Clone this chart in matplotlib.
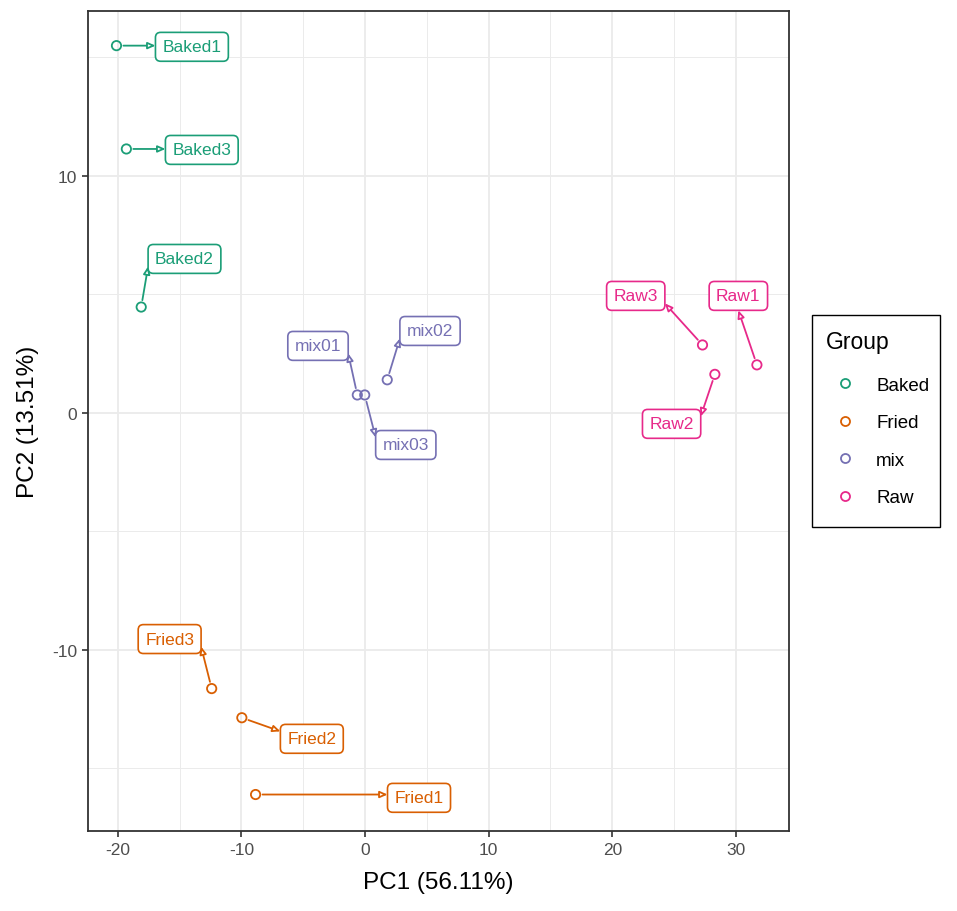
import numpy as np
from matplotlib import pyplot as plt
from matplotlib.lines import Line2D
from matplotlib.patches import Rectangle

plt.rcParams['font.family'] = ['Liberation Sans', 'DejaVu Sans']
plt.rcParams['axes.unicode_minus'] = False

GROUPS = ['Baked', 'Fried', 'mix', 'Raw']
COLORS = {'Baked': '#1B9E77', 'Fried': '#D95F02', 'mix': '#7570B3', 'Raw': '#E7298A'}

samples = ['Baked1', 'Baked2', 'Baked3', 'Fried1', 'Fried2', 'Fried3',
           'mix01', 'mix02', 'mix03', 'Raw1', 'Raw2', 'Raw3']
group = ['Baked', 'Baked', 'Baked', 'Fried', 'Fried', 'Fried',
         'mix', 'mix', 'mix', 'Raw', 'Raw', 'Raw']
pc1 = [-20.1, -18.1, -19.3, -8.85, -9.96, -12.4, -0.62, 1.8, -0.02, 31.7, 28.3, 27.3]
pc2 = [15.5, 4.47, 11.14, -16.1, -12.86, -11.63, 0.76, 1.4, 0.76, 2.03, 1.63, 2.87]
# repelled label positions
lab_x = [-14.0, -14.6, -13.2, 4.37, -4.3, -15.8, -3.8, 5.26, 3.3, 30.2, 24.8, 21.9]
lab_y = [15.45, 6.5, 11.1, -16.24, -13.75, -9.54, 2.83, 3.46, -1.35, 4.94, -0.46, 4.94]

W, H = 957, 912
fig = plt.figure(figsize=(W / 100, H / 100), dpi=100)
ax = fig.add_axes([0.092, 0.0877, 0.7325, 0.8991])
ax.set_xlim(-22.4, 34.3)
ax.set_ylim(-17.64, 16.96)

# ggplot theme_bw look
ax.set_xticks([-20, -10, 0, 10, 20, 30])
ax.set_yticks([-10, 0, 10])
ax.set_xticks([-15, -5, 5, 15, 25], minor=True)
ax.set_yticks([-15, -5, 5, 15], minor=True)
ax.grid(which='major', color='#EBEBEB', lw=1.3, zorder=0)
ax.grid(which='minor', color='#EBEBEB', lw=0.7, zorder=0)
ax.set_axisbelow(True)
for s in ax.spines.values():
    s.set_color('#333333')
    s.set_linewidth(1.3)
ax.tick_params(which='major', length=4, width=1.2, color='#333333',
               labelsize=12.5, labelcolor='#4D4D4D', pad=4)
ax.tick_params(which='minor', length=0)
ax.set_xlabel('PC1 (56.11%)', fontsize=17.5, labelpad=10)
ax.set_ylabel('PC2 (13.51%)', fontsize=17.5, labelpad=9)

for g in GROUPS:
    idx = [i for i, gg in enumerate(group) if gg == g]
    ax.scatter([pc1[i] for i in idx], [pc2[i] for i in idx], s=45,
               facecolors='none', edgecolors=COLORS[g], linewidths=1.3, zorder=3)

texts = []
for i, name in enumerate(samples):
    c = COLORS[group[i]]
    t = ax.text(lab_x[i], lab_y[i], name, color=c, fontsize=12.5,
                ha='center', va='center', zorder=5,
                bbox=dict(boxstyle='round,pad=0.4,rounding_size=0.3',
                          fc='white', ec=c, lw=1.2))
    texts.append(t)

fig.canvas.draw()
renderer = fig.canvas.get_renderer()
inv = ax.transData.inverted()
for i, t in enumerate(texts):
    c = COLORS[group[i]]
    box = t.get_bbox_patch().get_window_extent(renderer)
    tb = t.get_window_extent(renderer)
    px, py = ax.transData.transform((pc1[i], pc2[i]))
    if px < box.x0 or px > box.x1:
        # side connection, height limited to the text itself
        nx = box.x0 if px < box.x0 else box.x1
        ny = np.clip(py, tb.y0, tb.y1)
    else:
        nx = (box.x0 + box.x1) / 2
        ny = box.y0 if py < box.y0 else box.y1
    end = inv.transform((nx, ny))
    ax.annotate('', xy=end, xytext=(pc1[i], pc2[i]), zorder=4,
                arrowprops=dict(arrowstyle='-|>,head_length=0.45,head_width=0.2',
                                ec=c, fc='white', lw=1.3, shrinkA=5, shrinkB=0))

# legend frame drawn separately so its size matches ggplot's
fig.patches.append(Rectangle((812 / W, 1 - 528 / H), 128 / W, 212 / H,
                             transform=fig.transFigure, fill=False,
                             ec='black', lw=1.0))
handles = [Line2D([], [], ls='none', marker='o', ms=6.5, mfc='none', mew=1.3,
                  mec=COLORS[g]) for g in GROUPS]
leg = fig.legend(handles, GROUPS, title='Group', loc='upper left',
                 bbox_to_anchor=(826 / W, 1 - 331 / H), frameon=False,
                 fontsize=13.5, title_fontsize=16.5,
                 labelspacing=1.085, handletextpad=0.67, borderpad=0,
                 handlelength=2.0, borderaxespad=0, alignment='left')
leg._legend_box.sep = 17.2  # gap between title and keys

fig.savefig('out.png', dpi=100)
